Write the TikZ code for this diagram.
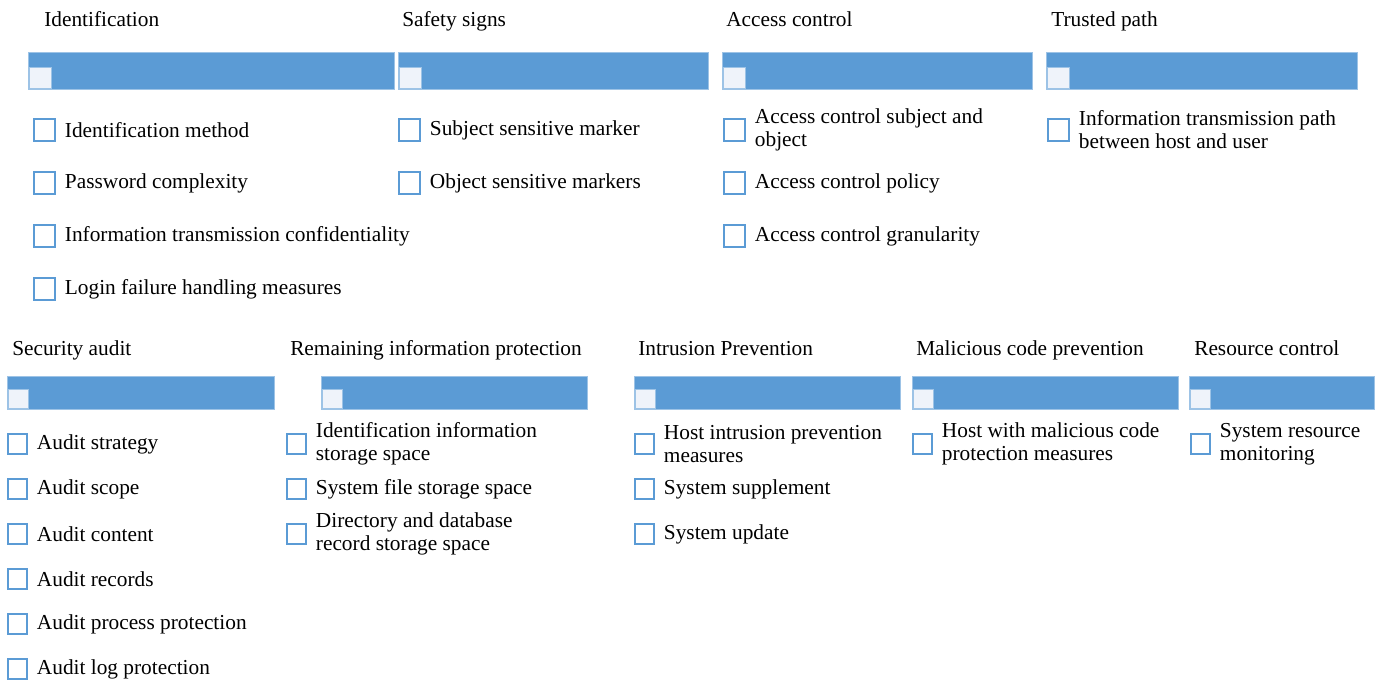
\documentclass[tikz,border=0pt]{standalone}
\usepackage{fontspec}
\setmainfont{Liberation Serif}
\usetikzlibrary{positioning}
\definecolor{barBlue}{RGB}{91, 155, 213}
\definecolor{barEdge}{RGB}{157, 195, 230}
\definecolor{boxFill}{RGB}{239, 243, 250}

\begin{document}
\begin{tikzpicture}[
    x=0.75pt, y=-0.75pt,
    font=\fontsize{16}{17.25}\selectfont,
    % Heading above each bar
    head/.style={anchor=base west, inner sep=0pt},
    % Blue header bar
    bar/.style={
        anchor=north west,
        fill=barBlue,
        draw=barEdge,
        line width=0.6pt,
        inner sep=0pt,
        minimum height=27.75pt
    },
    lowbar/.style={bar, minimum height=24.75pt},
    % Light square sitting in the bar corner
    corner/.style={
        anchor=south west,
        fill=boxFill,
        draw=barEdge,
        line width=0.4pt,
        inner sep=0pt,
        minimum width=16.5pt,
        minimum height=15.75pt
    },
    lowcorner/.style={corner, minimum width=15pt, minimum height=14.25pt},
    % Checkbox in front of each entry
    chk/.style={
        draw=barBlue,
        fill=white,
        line width=1.5pt,
        inner sep=0pt,
        outer sep=0pt,
        minimum size=16pt
    },
    lowchk/.style={chk, minimum size=14.5pt},
    % Entry text
    item/.style={align=left, inner sep=0pt}
]
    \useasboundingbox (0,0) rectangle (1382,683);

    % --- 1. Upper row: bars and headings ---
    \node[bar, minimum width=274.5pt] (bar_ident) at (28,52) {};
    \node[bar, minimum width=232.5pt] (bar_safety) at (398,52) {};
    \node[bar, minimum width=232.5pt] (bar_access) at (722,52) {};
    \node[bar, minimum width=233.25pt] (bar_path) at (1046,52) {};

    \node[corner] (cor_ident) at ([shift={(0.5pt,0.75pt)}]bar_ident.south west) {};
    \node[corner] (cor_safety) at ([shift={(0.5pt,0.75pt)}]bar_safety.south west) {};
    \node[corner] (cor_access) at ([shift={(0.5pt,0.75pt)}]bar_access.south west) {};
    \node[corner] (cor_path) at ([shift={(0.5pt,0.75pt)}]bar_path.south west) {};

    \node[head] (head_ident) at (44,26) {Identification};
    \node[head] (head_safety) at (402,26) {Safety signs};
    \node[head] (head_access) at (726,26) {Access control};
    \node[head] (head_path) at (1051,26) {Trusted path};

    % --- 2. Upper row: entries ---
    % Identification
    \node[chk, anchor=west] (chk_ident1) at (34,130) {};
    \node[chk, below=23.75pt of chk_ident1] (chk_ident2) {};
    \node[chk, below=23.75pt of chk_ident2] (chk_ident3) {};
    \node[chk, below=23.75pt of chk_ident3] (chk_ident4) {};
    \node[item, right=7pt of chk_ident1] (txt_ident1) {Identification method};
    \node[item, right=7pt of chk_ident2] (txt_ident2) {Password complexity};
    \node[item, right=7pt of chk_ident3] (txt_ident3) {Information transmission confidentiality};
    \node[item, right=7pt of chk_ident4] (txt_ident4) {Login failure handling measures};

    % Safety signs
    \node[chk, anchor=west] (chk_safety1) at (399,130) {};
    \node[chk, below=23.75pt of chk_safety1] (chk_safety2) {};
    \node[item, right=7pt of chk_safety1] (txt_safety1) {Subject sensitive marker};
    \node[item, right=7pt of chk_safety2] (txt_safety2) {Object sensitive markers};

    % Access control
    \node[chk, anchor=west] (chk_access1) at (724,130) {};
    \node[chk, below=23.75pt of chk_access1] (chk_access2) {};
    \node[chk, below=23.75pt of chk_access2] (chk_access3) {};
    \node[item, right=7pt of chk_access1] (txt_access1) {Access control subject and\\object};
    \node[item, right=7pt of chk_access2] (txt_access2) {Access control policy};
    \node[item, right=7pt of chk_access3] (txt_access3) {Access control granularity};

    % Trusted path
    \node[chk, anchor=west] (chk_path1) at (1048,130) {};
    \node[item, right=7pt of chk_path1] (txt_path1) {Information transmission path\\between host and user};

    % --- 3. Lower row: bars and headings ---
    \node[lowbar, minimum width=200.25pt] (bar_audit) at (7,376) {};
    \node[lowbar, minimum width=199.5pt] (bar_remain) at (321,376) {};
    \node[lowbar, minimum width=199.5pt] (bar_intrude) at (634,376) {};
    \node[lowbar, minimum width=199.5pt] (bar_malware) at (912,376) {};
    \node[lowbar, minimum width=138.75pt] (bar_resource) at (1189,376) {};

    \node[lowcorner] (cor_audit) at ([shift={(0.5pt,0.75pt)}]bar_audit.south west) {};
    \node[lowcorner] (cor_remain) at ([shift={(0.5pt,0.75pt)}]bar_remain.south west) {};
    \node[lowcorner] (cor_intrude) at ([shift={(0.5pt,0.75pt)}]bar_intrude.south west) {};
    \node[lowcorner] (cor_malware) at ([shift={(0.5pt,0.75pt)}]bar_malware.south west) {};
    \node[lowcorner] (cor_resource) at ([shift={(0.5pt,0.75pt)}]bar_resource.south west) {};

    \node[head] (head_audit) at (12,355) {Security audit};
    \node[head] (head_remain) at (290,355) {Remaining information protection};
    \node[head] (head_intrude) at (638,355) {Intrusion Prevention};
    \node[head] (head_malware) at (916,355) {Malicious code prevention};
    \node[head] (head_resource) at (1194,355) {Resource control};

    % --- 4. Lower row: entries ---
    % Security audit
    \node[lowchk, anchor=west] (chk_audit1) at (8,444) {};
    \node[lowchk, below=19.25pt of chk_audit1] (chk_audit2) {};
    \node[lowchk, below=19.25pt of chk_audit2] (chk_audit3) {};
    \node[lowchk, below=19.25pt of chk_audit3] (chk_audit4) {};
    \node[lowchk, below=19.25pt of chk_audit4] (chk_audit5) {};
    \node[lowchk, below=19.25pt of chk_audit5] (chk_audit6) {};
    \node[item, right=7pt of chk_audit1] (txt_audit1) {Audit strategy};
    \node[item, right=7pt of chk_audit2] (txt_audit2) {Audit scope};
    \node[item, right=7pt of chk_audit3] (txt_audit3) {Audit content};
    \node[item, right=7pt of chk_audit4] (txt_audit4) {Audit records};
    \node[item, right=7pt of chk_audit5] (txt_audit5) {Audit process protection};
    \node[item, right=7pt of chk_audit6] (txt_audit6) {Audit log protection};

    % Remaining information protection
    \node[lowchk, anchor=west] (chk_remain1) at (287,444) {};
    \node[lowchk, below=19.25pt of chk_remain1] (chk_remain2) {};
    \node[lowchk, below=19.25pt of chk_remain2] (chk_remain3) {};
    \node[item, right=7pt of chk_remain1] (txt_remain1) {Identification information\\storage space};
    \node[item, right=7pt of chk_remain2] (txt_remain2) {System file storage space};
    \node[item, right=7pt of chk_remain3] (txt_remain3) {Directory and database\\record storage space};

    % Intrusion prevention
    \node[lowchk, anchor=west] (chk_intrude1) at (635,444) {};
    \node[lowchk, below=19.25pt of chk_intrude1] (chk_intrude2) {};
    \node[lowchk, below=19.25pt of chk_intrude2] (chk_intrude3) {};
    \node[item, right=7pt of chk_intrude1] (txt_intrude1) {Host intrusion prevention\\measures};
    \node[item, right=7pt of chk_intrude2] (txt_intrude2) {System supplement};
    \node[item, right=7pt of chk_intrude3] (txt_intrude3) {System update};

    % Malicious code prevention
    \node[lowchk, anchor=west] (chk_malware1) at (913,444) {};
    \node[item, right=7pt of chk_malware1] (txt_malware1) {Host with malicious code\\protection measures};

    % Resource control
    \node[lowchk, anchor=west] (chk_resource1) at (1191,444) {};
    \node[item, right=7pt of chk_resource1] (txt_resource1) {System resource\\monitoring};

\end{tikzpicture}
\end{document}
